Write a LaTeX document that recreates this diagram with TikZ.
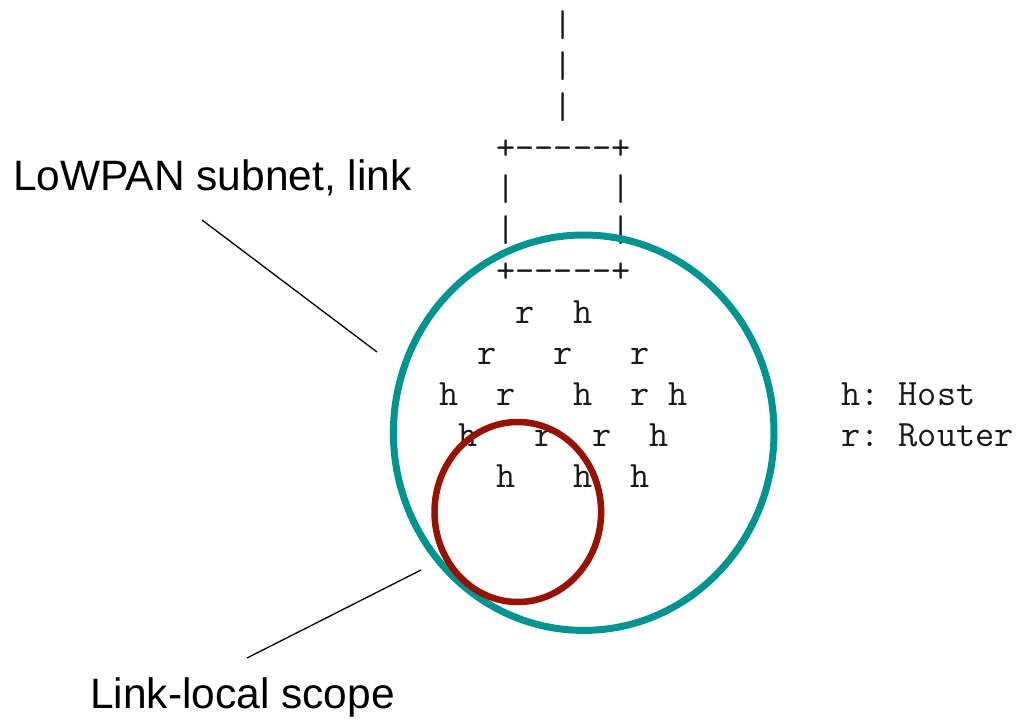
\documentclass[tikz,border=0pt]{standalone}
\usepackage{fontspec}
\setmainfont{Liberation Sans}
\definecolor{subnetteal}{RGB}{0,148,144}
\definecolor{scopered}{RGB}{152,18,0}
\begin{document}
\begin{tikzpicture}[x=1pt,y=-1pt,
  art/.style={anchor=base west, inner sep=0pt,
    font=\ttfamily\fontsize{37.2}{37.2}\selectfont, text=black!90},
  callout/.style={anchor=base west, inner sep=0pt,
    font=\fontsize{42.5}{42.5}\selectfont},
  leader/.style={line width=1.3pt, black},
  subnet/.style={draw=subnetteal, line width=7pt},
  linkscope/.style={draw=scopered, line width=6.5pt}]
\useasboundingbox (0,0) rectangle (1018,720);

% ASCII topology, one node per text row (column grid of 19.2pt)
\def\artx{438.8}
\node[art] (r1)  at (\artx, 36)  {~~~~~~|};
\node[art] (r2)  at (\artx, 77)  {~~~~~~|};
\node[art] (r3)  at (\artx,118)  {~~~~~~|};
\node[art] (r4)  at (\artx,159)  {~~~+-{}-{}-{}-{}-+};
\node[art] (r5)  at (\artx,200)  {~~~|~~~~~|};
\node[art] (r6)  at (\artx,241)  {~~~|~~~~~|};
\node[art] (r7)  at (\artx,282)  {~~~+-{}-{}-{}-{}-+};
\node[art] (r8)  at (\artx,323)  {~~~~r~~h};
\node[art] (r9)  at (\artx,364)  {~~r~~~r~~~r};
\node[art] (r10) at (\artx,405)  {h~~r~~~h~~r~h~~~~~~~~h:~Host};
\node[art] (r11) at (\artx,446)  {~h~~~r~~r~~h~~~~~~~~~r:~Router};
\node[art] (r12) at (\artx,487)  {~~~h~~~h~~h};

% Scope outlines
\draw[subnet] (583.7,432.7) ellipse [x radius=190.3pt, y radius=197.7pt];
\draw[linkscope] (517.8,512) ellipse [x radius=83.3pt, y radius=90pt];

% Callouts with leader lines
\node[callout] (lowpan) at (13,190) {LoWPAN subnet, link};
\node[callout] (llscope) at (90,708) {Link-local scope};
\coordinate (lowpanA) at (202,220);
\coordinate (lowpanB) at (377,352);
\coordinate (llA) at (247,658);
\coordinate (llB) at (421,570);
\draw[leader] (lowpanA) -- (lowpanB);
\draw[leader] (llA) -- (llB);
\end{tikzpicture}
\end{document}
